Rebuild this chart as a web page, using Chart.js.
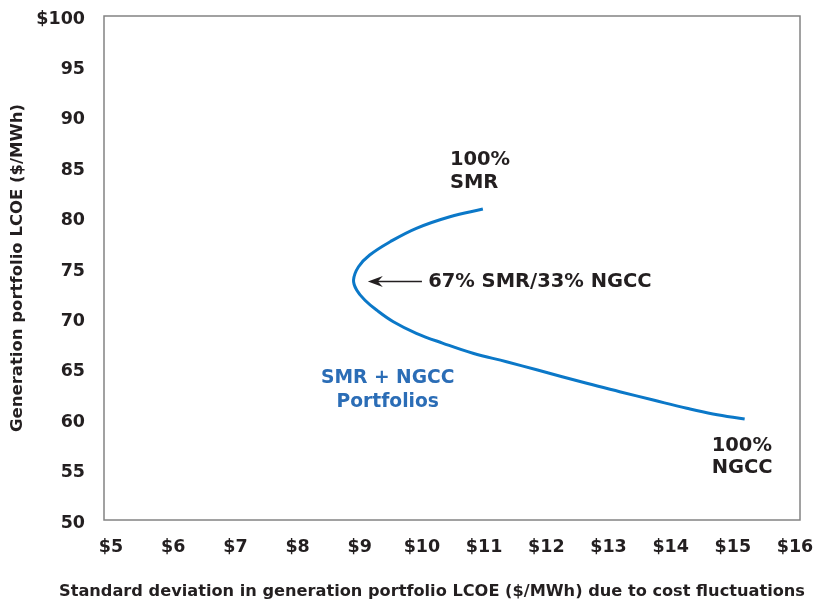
<!DOCTYPE html>
<html>
<head>
<meta charset="utf-8">
<script src="https://cdn.jsdelivr.net/npm/chart.js@4"></script>
<style>
  html, body { margin: 0; padding: 0; background: #fff; }
  #wrap { width: 815px; height: 604px; }
</style>
</head>
<body>
<div id="wrap"><canvas id="chart"></canvas></div>
<script>
// Portfolio frontier, from 100% SMR (top) down to 100% NGCC
const sdValues   = [10.98, 10.45, 9.91, 9.49, 9.16, 8.98, 8.90, 8.95, 9.08, 9.27, 9.54, 9.91, 10.34, 10.82, 11.36, 11.86, 12.65, 13.18, 13.72, 14.26, 14.68, 15.19];
const lcoeValues = [80.85, 80.09, 78.94, 77.61, 76.29, 75.13, 73.81, 72.82, 71.83, 70.83, 69.67, 68.52, 67.53, 66.54, 65.70, 64.88, 63.56, 62.73, 61.90, 61.08, 60.52, 60.02];

// Tick labels
const xTicks = [5, 6, 7, 8, 9, 10, 11, 12, 13, 14, 15, 16];
const yTicks = [50, 55, 60, 65, 70, 75, 80, 85, 90, 95, 100];

const textColor = '#231f20';
const lineBlue = '#0b78c8';
const labelBlue = '#2b6db6';
const fontFamily = '"DejaVu Sans", "Liberation Sans", Arial, sans-serif';

// drop the label overflow padding so the plot box sits where the layout says
function noPadding(s) {
  s.paddingTop = 0;
  s.paddingBottom = 0;
  s.paddingLeft = 0;
  s.paddingRight = 0;
}

// Box, arrow and the text callouts
const annotations = {
  id: 'annotations',
  afterDraw(chart) {
    const ctx = chart.ctx;
    const { left, top, right, bottom } = chart.chartArea;
    const xs = chart.scales.x, ys = chart.scales.y;
    const px = v => xs.getPixelForValue(v);
    const py = v => ys.getPixelForValue(v);

    ctx.save();
    ctx.strokeStyle = '#838383';
    ctx.lineWidth = 1.5;
    ctx.strokeRect(left, top, right - left, bottom - top);

    ctx.textBaseline = 'middle';
    ctx.fillStyle = textColor;
    ctx.font = 'bold 19.5px ' + fontFamily;
    ctx.textAlign = 'left';
    ctx.fillText('100%', px(10.45), py(85.7));
    ctx.fillText('SMR', px(10.45), py(83.4));
    ctx.fillText('67% SMR/33% NGCC', px(10.10), py(73.6));
    ctx.fillText('100%', px(14.66), py(57.3));
    ctx.fillText('NGCC', px(14.66), py(55.2));

    // arrow pointing at the 67/33 portfolio
    const ay = py(73.65);
    const x0 = px(10.0), x1 = px(9.13);
    ctx.strokeStyle = textColor;
    ctx.lineWidth = 1.5;
    ctx.beginPath();
    ctx.moveTo(x0, ay);
    ctx.lineTo(x1 + 8, ay);
    ctx.stroke();
    ctx.beginPath();
    ctx.moveTo(x1, ay);
    ctx.lineTo(x1 + 15, ay - 5.5);
    ctx.lineTo(x1 + 10, ay);
    ctx.lineTo(x1 + 15, ay + 5.5);
    ctx.closePath();
    ctx.fill();

    ctx.fillStyle = labelBlue;
    ctx.textAlign = 'center';
    ctx.font = 'bold 18.7px ' + fontFamily;
    ctx.fillText('SMR + NGCC', px(9.45), py(64.1));
    ctx.fillText('Portfolios', px(9.45), py(61.7));

    // x axis title
    ctx.fillStyle = textColor;
    ctx.font = 'bold 16.2px ' + fontFamily;
    ctx.fillText('Standard deviation in generation portfolio LCOE ($/MWh) due to cost fluctuations', 432, 592);
    ctx.restore();
  }
};

new Chart(document.getElementById('chart'), {
  type: 'scatter',
  data: {
    datasets: [{
      data: sdValues.map((x, i) => ({ x: x, y: lcoeValues[i] })),
      showLine: true,
      borderColor: lineBlue,
      borderWidth: 3,
      pointRadius: 0,
      tension: 0.4,
      fill: false
    }]
  },
  options: {
    responsive: true,
    maintainAspectRatio: false,
    animation: false,
    layout: { padding: { left: 0, top: 16, right: 15, bottom: 0 } },
    plugins: {
      legend: { display: false },
      tooltip: { enabled: false }
    },
    scales: {
      x: {
        type: 'linear',
        min: 4.887,
        max: 16.08,
        afterBuildTicks: s => { s.ticks = xTicks.map(v => ({ value: v })); },
        afterFit: s => { s.height = 84; noPadding(s); },
        grid: { display: false, drawTicks: false },
        border: { display: false },
        ticks: {
          autoSkip: false,
          maxRotation: 0,
          padding: 17,
          color: textColor,
          font: { family: fontFamily, size: 17.5, weight: 'bold' },
          callback: v => '$' + v
        }
      },
      y: {
        type: 'linear',
        min: 50,
        max: 100,
        afterBuildTicks: s => { s.ticks = yTicks.map(v => ({ value: v })); },
        afterFit: s => { s.width = 104; noPadding(s); },
        grid: { display: false, drawTicks: false },
        border: { display: false },
        ticks: {
          padding: 19,
          labelOffset: 3,
          color: textColor,
          font: { family: fontFamily, size: 17.5, weight: 'bold' },
          callback: v => v === 100 ? '$100' : v
        },
        title: {
          display: true,
          text: 'Generation portfolio LCOE ($/MWh)',
          color: textColor,
          padding: { top: 8, bottom: 0 },
          font: { family: fontFamily, size: 16.5, weight: 'bold' }
        }
      }
    }
  },
  plugins: [annotations]
});
</script>
</body>
</html>
